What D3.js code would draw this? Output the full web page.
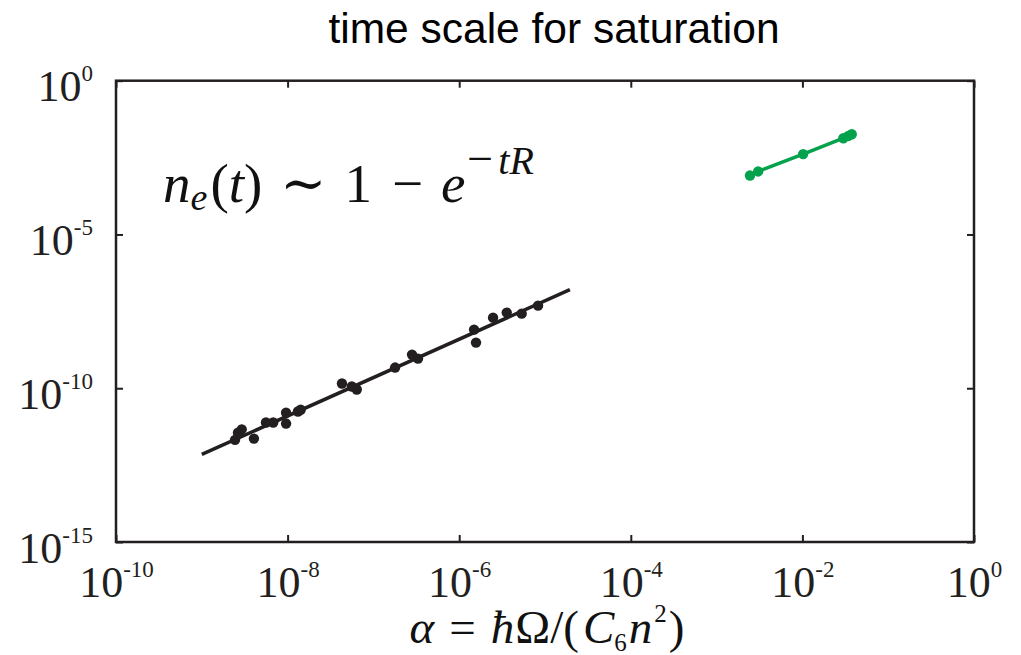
<!DOCTYPE html>
<html>
<head>
<meta charset="utf-8">
<script src="https://cdn.jsdelivr.net/npm/d3@7"></script>
<style>
  html, body { margin: 0; padding: 0; background: #fff; }
  svg { display: block; }
</style>
</head>
<body>
<div id="chart"></div>
<script>
"use strict";

// ─── Data ────────────────────────────────────────────────────────────────────
const xTicks = [1e-10, 1e-8, 1e-6, 1e-4, 1e-2, 1];
const yTicks = [1e-15, 1e-10, 1e-5, 1];

// black: simulated points
const blackX = [2.44e-9, 2.92e-9, 2.64e-9, 4.05e-9, 5.6e-9, 6.8e-9, 9.6e-9, 9.6e-9,
  1.32e-8, 1.42e-8, 4.3e-8, 5.6e-8, 6.4e-8, 1.79e-7, 2.82e-7, 3.31e-7,
  1.49e-6, 1.57e-6, 2.48e-6, 3.58e-6, 5.35e-6, 8.3e-6];
const blackY = [2.1e-12, 4.6e-12, 3.6e-12, 2.3e-12, 7.7e-12, 7.7e-12, 1.6e-11, 7.1e-12,
  1.75e-11, 2.0e-11, 1.42e-10, 1.14e-10, 9.1e-11, 4.7e-10, 1.24e-9, 9.2e-10,
  8.05e-9, 3.05e-9, 1.97e-8, 2.88e-8, 2.66e-8, 4.84e-8];
// black: fitted power law (end points)
const fitX = [1.0e-9, 1.95e-5];
const fitY = [7.1e-13, 1.6e-7];

// green series
const greenX = [2.45e-3, 3.05e-3, 1.02e-2, 3.0e-2, 3.43e-2, 3.76e-2];
const greenY = [8.3e-4, 1.12e-3, 4.1e-3, 1.35e-2, 1.6e-2, 1.82e-2];

// ─── Layout ──────────────────────────────────────────────────────────────────
const W = 1021, H = 655;
const M = { left: 116, right: 974, top: 80.7, bottom: 542 };
const AXIS = "#231f20";
const GREEN = "#04a24c";
const SERIF = "'Liberation Serif', 'DejaVu Serif', serif";

const svg = d3.select("#chart").append("svg")
  .attr("width", W).attr("height", H)
  .attr("viewBox", `0 0 ${W} ${H}`);

const x = d3.scaleLog().domain([1e-10, 1]).range([M.left, M.right]);
const y = d3.scaleLog().domain([1e-15, 1]).range([M.bottom, M.top]);

// superscript tick label "10^k"
function powLabel(sel, v) {
  const k = Math.round(Math.log10(v));
  sel.text(null);
  sel.append("tspan").text("10");
  sel.append("tspan")
    .attr("dy", -20)
    .style("font-size", "23px")
    .text(k === 0 ? "0" : "-" + Math.abs(k));
}

// ─── Axes (ticks inward on all four sides) ───────────────────────────────────
const gx = svg.append("g")
  .attr("transform", `translate(0,${M.bottom})`)
  .call(d3.axisBottom(x).tickValues(xTicks).tickSize(-7).tickSizeOuter(0));
svg.append("g")
  .attr("transform", `translate(0,${M.top})`)
  .call(d3.axisTop(x).tickValues(xTicks).tickSize(-7).tickSizeOuter(0).tickFormat(""));
const gy = svg.append("g")
  .attr("transform", `translate(${M.left},0)`)
  .call(d3.axisLeft(y).tickValues(yTicks).tickSize(-7).tickSizeOuter(0));
svg.append("g")
  .attr("transform", `translate(${M.right},0)`)
  .call(d3.axisRight(y).tickValues(yTicks).tickSize(-7).tickSizeOuter(0).tickFormat(""));

svg.selectAll(".domain").remove();
svg.selectAll(".tick line").attr("stroke", AXIS).attr("stroke-width", 2);

gx.selectAll(".tick text")
  .attr("y", 0).attr("dy", null)
  .attr("transform", "translate(0,55)")
  .style("font-family", SERIF).style("font-size", "44px")
  .attr("fill", AXIS)
  .attr("text-anchor", "middle")
  .each(function (d) { powLabel(d3.select(this), d); });

gy.selectAll(".tick text")
  .attr("x", 0).attr("dy", null)
  .attr("transform", "translate(-23,20)")
  .style("font-family", SERIF).style("font-size", "44px")
  .attr("fill", AXIS)
  .attr("text-anchor", "end")
  .each(function (d) { powLabel(d3.select(this), d); });

// frame
svg.append("rect")
  .attr("x", M.left).attr("y", M.top)
  .attr("width", M.right - M.left).attr("height", M.bottom - M.top)
  .attr("fill", "none").attr("stroke", AXIS).attr("stroke-width", 2.5);

// ─── Series ──────────────────────────────────────────────────────────────────
const line = d3.line().x((d) => x(d[0])).y((d) => y(d[1]));

svg.append("path")
  .datum(d3.zip(fitX, fitY))
  .attr("d", line)
  .attr("fill", "none").attr("stroke", AXIS).attr("stroke-width", 3.5);

svg.append("g").selectAll("circle")
  .data(d3.zip(blackX, blackY))
  .join("circle")
  .attr("cx", (d) => x(d[0])).attr("cy", (d) => y(d[1]))
  .attr("r", 5.2).attr("fill", AXIS);

svg.append("path")
  .datum(d3.zip(greenX, greenY))
  .attr("d", line)
  .attr("fill", "none").attr("stroke", GREEN).attr("stroke-width", 3.5);

svg.append("g").selectAll("circle")
  .data(d3.zip(greenX, greenY))
  .join("circle")
  .attr("cx", (d) => x(d[0])).attr("cy", (d) => y(d[1]))
  .attr("r", 5.2).attr("fill", GREEN);

// ─── Text ────────────────────────────────────────────────────────────────────
svg.append("text")
  .attr("x", 554).attr("y", 43)
  .attr("text-anchor", "middle")
  .style("font-family", "'Liberation Sans', Arial, sans-serif")
  .style("font-size", "42.5px")
  .attr("fill", "#000")
  .text("time scale for saturation");

// typeset formula in natural flow: [text, dx, dy, size, italic]
function formula(sel, size, parts) {
  sel.style("font-family", SERIF).style("font-size", size + "px").attr("fill", "#111");
  parts.forEach(([s, dx, dy, sz, it]) => {
    sel.append("tspan")
      .attr("dx", dx || null).attr("dy", dy || null)
      .style("font-size", (sz || size) + "px")
      .style("font-style", it ? "italic" : "normal")
      .text(s);
  });
}

// x-axis label: α = ħΩ/(C₆n²)
formula(svg.append("text")
  .attr("x", 547).attr("y", 643).attr("text-anchor", "middle"), 47, [
  ["α", 0, 0, null, true],
  ["=", 15, 0, null, false],
  ["ħ", 15, 0, null, true],
  ["Ω/(", 1, 0, null, false],
  ["C", 4, 0, null, true],
  ["6", 0, 8, 25, false],
  ["n", 2, -8, null, true],
  ["2", 2, -21, 25, false],
  [")", 2, 21, null, false]
]);

// annotation: n_e(t) ∼ 1 − e^{−tR}
formula(svg.append("text").attr("x", 163).attr("y", 202), 55, [
  ["n", 0, 0, null, true],
  ["e", 0, 8, 38, true],
  ["(", 3, -8, null, false],
  ["t", 0, 0, null, true],
  [")", 0, 0, null, false],
  ["∼", 18, 0, null, false],
  ["1", 18, 0, null, false],
  ["−", 20, 0, null, false],
  ["e", 18, 0, null, true],
  ["−", 2, -28, 46, false],
  ["tR", 5, 0, 40, true]
]);
</script>
</body>
</html>
